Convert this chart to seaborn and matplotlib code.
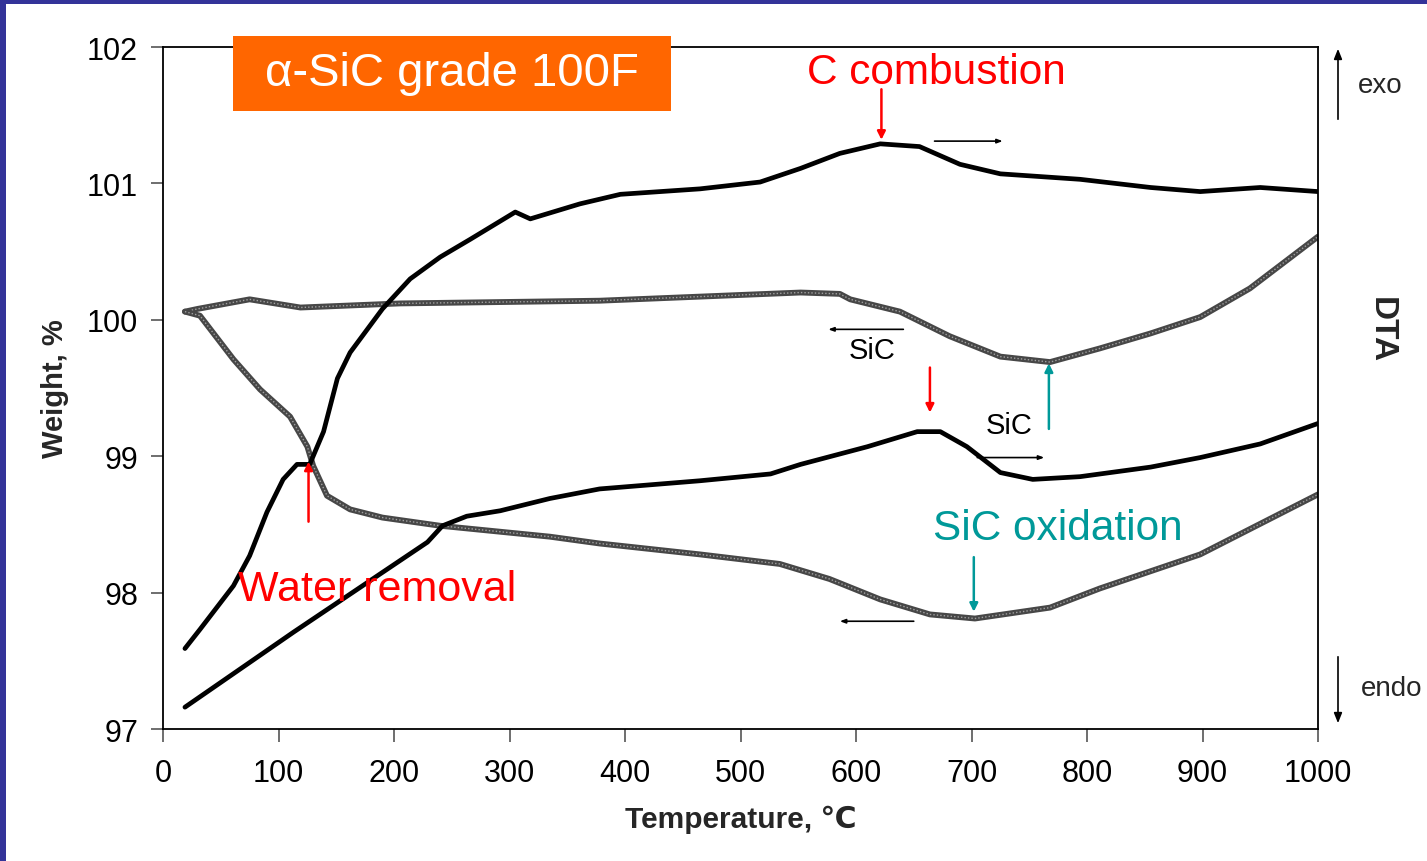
import matplotlib
matplotlib.use("Agg")
import matplotlib.pyplot as plt
import seaborn as sns
import pandas as pd
from matplotlib.patches import Rectangle, FancyArrowPatch

# ---- data ----
tg_heat_T = [19, 32, 61, 75, 90, 104, 116, 127, 139, 151, 162, 190, 214, 240, 266, 305, 318,
             361, 396, 465, 517, 552, 586, 621, 655, 690, 725, 794, 855, 898, 950, 1000]
tg_heat_V = [97.59, 97.73, 98.05, 98.27, 98.59, 98.83, 98.94, 98.94, 99.18, 99.57, 99.76, 100.08,
             100.30, 100.46, 100.59, 100.79, 100.74, 100.85, 100.92, 100.96, 101.01, 101.11, 101.22,
             101.29, 101.27, 101.14, 101.07, 101.03, 100.97, 100.94, 100.97, 100.94]

dta_heat_T = [19, 30, 75, 119, 205, 378, 465, 552, 586, 595, 638, 681, 725, 768, 811, 855, 898, 941, 1000]
dta_heat_V = [100.06, 100.08, 100.15, 100.09, 100.12, 100.14, 100.17, 100.20, 100.19, 100.15,
              100.06, 99.88, 99.73, 99.69, 99.79, 99.90, 100.02, 100.23, 100.61]

dta_cool_T = [19, 32, 61, 84, 110, 125, 130, 142, 162, 190, 240, 335, 378, 465, 534, 577, 621,
              664, 703, 768, 811, 898, 1000]
dta_cool_V = [100.06, 100.03, 99.71, 99.49, 99.29, 99.07, 98.93, 98.71, 98.61, 98.55, 98.49, 98.41,
              98.36, 98.28, 98.21, 98.10, 97.95, 97.84, 97.81, 97.89, 98.03, 98.28, 98.72]

tg_cool_T = [19, 113, 229, 242, 263, 292, 335, 378, 465, 526, 552, 610, 653, 673, 696, 725, 753,
             794, 855, 898, 950, 1000]
tg_cool_V = [97.16, 97.71, 98.37, 98.49, 98.56, 98.60, 98.69, 98.76, 98.82, 98.87, 98.94, 99.07,
             99.18, 99.18, 99.07, 98.88, 98.83, 98.85, 98.92, 98.99, 99.09, 99.24]

x_ticks = [0, 100, 200, 300, 400, 500, 600, 700, 800, 900, 1000]
y_ticks = [97, 98, 99, 100, 101, 102]

sns.set_theme(style="white")
plt.rcParams["font.family"] = ["Liberation Sans", "DejaVu Sans"]

fig = plt.figure(figsize=(14.27, 8.62), dpi=100)
ax = fig.add_axes([163 / 1427, 1 - 730 / 862, (1318 - 163) / 1427, (730 - 48) / 862])

gray = "#474747"
for T, V in [(dta_heat_T, dta_heat_V), (dta_cool_T, dta_cool_V)]:
    df = pd.DataFrame({"T": T, "V": V})
    sns.lineplot(data=df, x="T", y="V", ax=ax, color=gray, lw=4.2, sort=False)
    sns.lineplot(data=df, x="T", y="V", ax=ax, color="#a0a0a0", lw=1.0, sort=False,
                 linestyle=(0, (1, 1.5)))
for T, V in [(tg_heat_T, tg_heat_V), (tg_cool_T, tg_cool_V)]:
    df = pd.DataFrame({"T": T, "V": V})
    sns.lineplot(data=df, x="T", y="V", ax=ax, color="black", lw=3.4, sort=False)

ax.set_xlim(0, 1000)
ax.set_ylim(97, 102)
ax.set_xticks(x_ticks)
ax.set_yticks(y_ticks)
ax.tick_params(axis="both", labelsize=22, length=9, width=1.2, color="#555555",
               direction="out", labelcolor="black")
ax.tick_params(axis="x", pad=12)
ax.tick_params(axis="y", pad=9)
ax.tick_params(axis="both", left=True, bottom=True)
for s in ax.spines.values():
    s.set_color("black")
    s.set_linewidth(1.3)
ax.set_xlabel("Temperature, ℃", fontsize=21.5, fontweight="bold", labelpad=12)
ax.set_ylabel("Weight, %", fontsize=21, fontweight="bold", labelpad=13)

# ---- annotations ----
ax.add_patch(Rectangle((60.6, 101.53), 379.2, 0.55, facecolor="#ff6600", edgecolor="none",
                       clip_on=False, zorder=3))
ax.text(250, 101.81, "α-SiC grade 100F", fontsize=34, color="white", ha="center", va="center",
        zorder=4)
red = "#ff0000"
teal = "#009999"
ax.text(670, 101.82, "C combustion", fontsize=30.5, color=red, ha="center", va="center")
ax.text(185, 98.03, "Water removal", fontsize=31, color=red, ha="center", va="center")
ax.text(775, 98.47, "SiC oxidation", fontsize=30.5, color=teal, ha="center", va="center")

def arrow(x0, y0, x1, y1, c, lw=1.5, hw=10, hl=12):
    ax.annotate("", xy=(x1, y1), xytext=(x0, y0),
                arrowprops=dict(arrowstyle=f"-|>,head_width={hw/30},head_length={hl/30}",
                                color=c, lw=lw, shrinkA=0, shrinkB=0))

arrow(622, 101.69, 622, 101.32, red, lw=1.8, hw=6, hl=12)
arrow(664, 99.65, 664, 99.32, red, lw=1.8, hw=6, hl=12)
arrow(126, 98.52, 126, 98.96, red, lw=1.8, hw=6, hl=12)
arrow(767, 99.2, 767, 99.68, teal, lw=1.8, hw=6, hl=12)
arrow(702, 98.26, 702, 97.86, teal, lw=1.8, hw=6, hl=12)

arrow(668, 101.31, 727, 101.31, "black", lw=1.2, hw=3, hl=8)
arrow(641, 99.93, 576, 99.93, "black", lw=1.2, hw=3, hl=8)
arrow(705, 98.99, 763, 98.99, "black", lw=1.2, hw=3, hl=8)
arrow(650, 97.79, 586, 97.79, "black", lw=1.2, hw=3, hl=8)

ax.text(614, 99.78, "SiC", fontsize=21, color="black", ha="center", va="center")
ax.text(733, 99.23, "SiC", fontsize=21, color="black", ha="center", va="center")

# right side DTA labels (figure coords)
def fx(px):
    return px / 1427
def fy(py):
    return 1 - py / 862

fig.add_artist(FancyArrowPatch((fx(1338), fy(123)), (fx(1338), fy(47)),
               transform=fig.transFigure, arrowstyle="-|>,head_width=0.12,head_length=0.3",
               color="black", lw=1.2, mutation_scale=20))
fig.add_artist(FancyArrowPatch((fx(1338), fy(655)), (fx(1338), fy(727)),
               transform=fig.transFigure, arrowstyle="-|>,head_width=0.12,head_length=0.3",
               color="black", lw=1.2, mutation_scale=20))
fig.text(fx(1380), fy(86), "exo", fontsize=20, ha="center", va="center")
fig.text(fx(1392), fy(689), "endo", fontsize=20, ha="center", va="center")
fig.text(fx(1381), fy(330), "DTA", fontsize=24, fontweight="bold", rotation=-90,
         ha="center", va="center")

# blue slide frame
fig.add_artist(Rectangle((0, 0), fx(6), 1, transform=fig.transFigure, color="#333399", lw=0))
fig.add_artist(Rectangle((0, fy(5)), 1, fy(0) - fy(5), transform=fig.transFigure,
                         color="#333399", lw=0))

fig.savefig("out.png", dpi=100)
